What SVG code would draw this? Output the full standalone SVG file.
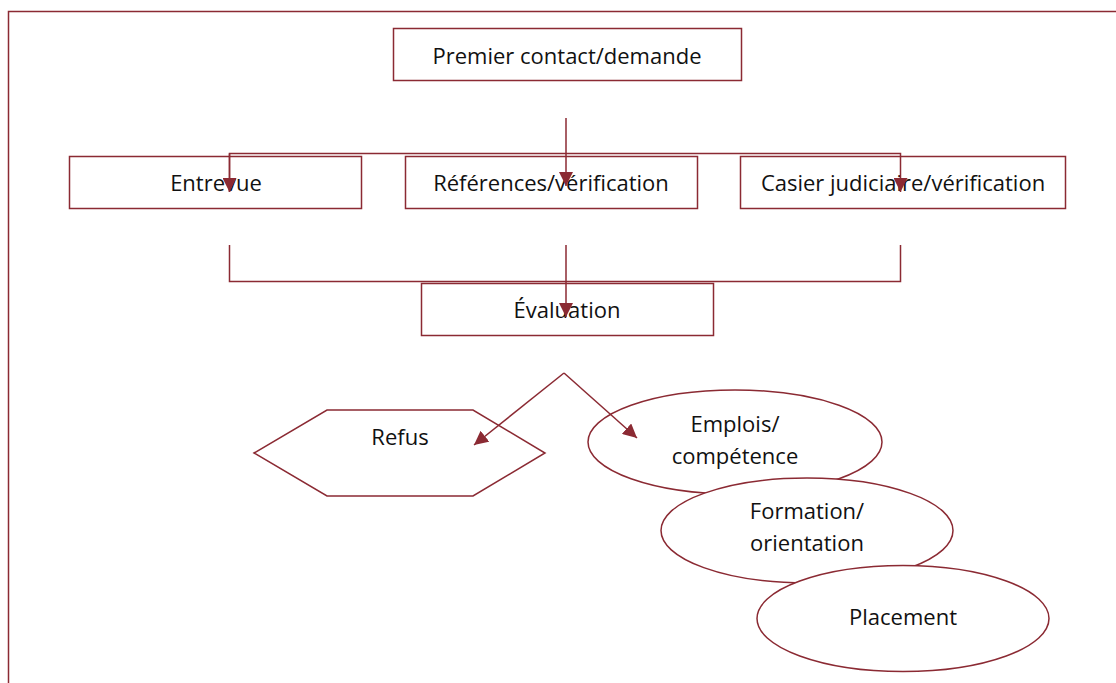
<svg xmlns="http://www.w3.org/2000/svg" width="1116" height="683" viewBox="0 0 1116 683">
<style>
.b{fill:#fff;stroke:#8b2a33;stroke-width:1.5}
.c{fill:none;stroke:#8b2a33;stroke-width:1.5}
text{font-family:"Open Sans","Liberation Sans",sans-serif;font-size:22px;fill:#111;text-anchor:middle}
</style>
<defs>
<marker id="a" viewBox="0 0 12 12" refX="12" refY="6" markerWidth="14" markerHeight="14" orient="auto" markerUnits="userSpaceOnUse">
<path d="M0,0 L12,6 L0,12 z" fill="#8b2a33"/>
</marker>
</defs>
<path id="frame" class="c" d="M8.5,683 V11.5 H1116"/>
<g id="n-premier"><rect class="b" x="393.5" y="28.5" width="348" height="52"/><text x="567" y="64">Premier contact/demande</text></g>
<g id="n-entrevue"><rect class="b" x="69.5" y="156.5" width="292" height="52"/><text x="216" y="191">Entrevue</text></g>
<g id="n-references"><rect class="b" x="405.5" y="156.5" width="292" height="52"/><text x="551" y="191">Références/vérification</text></g>
<g id="n-casier"><rect class="b" x="740.5" y="156.5" width="325" height="52"/><text x="903" y="191">Casier judiciaire/vérification</text></g>
<g id="n-evaluation"><rect class="b" x="421.5" y="283.5" width="292" height="52"/><text x="567" y="318">Évaluation</text></g>
<g id="n-refus"><polygon class="b" points="254,453 327,410 473,410 545,453 473,496 327,496"/><text x="400" y="445">Refus</text></g>
<g id="n-emplois"><ellipse class="b" cx="735" cy="442" rx="147" ry="52"/><text x="735" y="432">Emplois/</text><text x="735" y="464">compétence</text></g>
<g id="n-formation"><ellipse class="b" cx="807" cy="530.5" rx="146" ry="52.5"/><text x="807" y="519">Formation/</text><text x="807" y="551">orientation</text></g>
<g id="n-placement"><ellipse class="b" cx="903" cy="618.5" rx="146" ry="53"/><text x="903" y="625">Placement</text></g>
<g id="connectors">
<path class="c" d="M566,118 V186" marker-end="url(#a)"/>
<path class="c" d="M229.5,192 V153.5 H900.5 V192" marker-end="url(#a)"/>
<path class="c" d="M229.5,153.5 V192" marker-end="url(#a)"/>
<path class="c" d="M229.5,245 V281.5 H900.5 V245"/>
<path class="c" d="M566,245 V317" marker-end="url(#a)"/>
<path class="c" d="M564,373 L637,438" marker-end="url(#a)"/>
<path class="c" d="M564,373 L474,445" marker-end="url(#a)"/>
</g>
</svg>
